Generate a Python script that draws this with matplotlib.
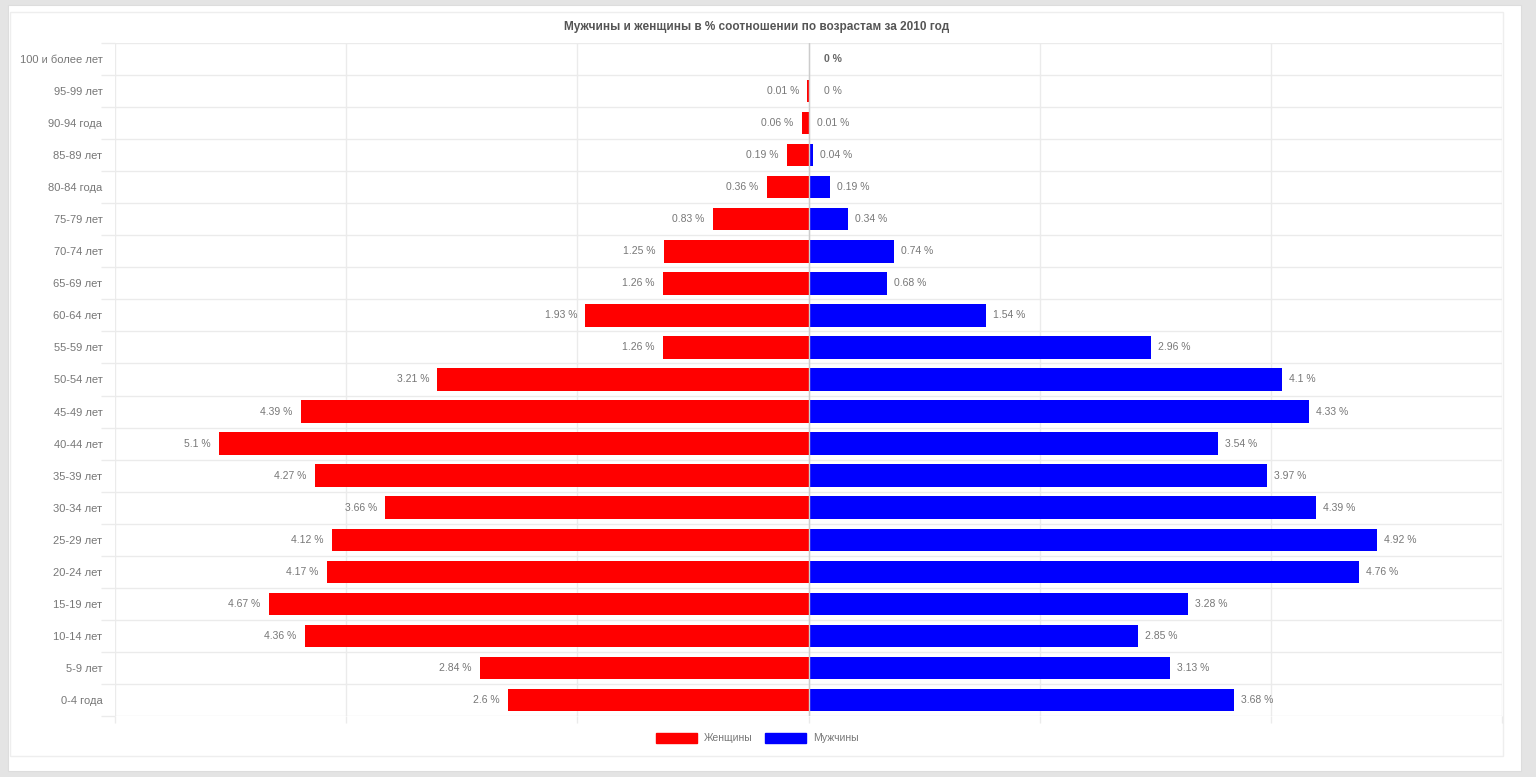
import matplotlib.pyplot as plt
from matplotlib.patches import Rectangle, Patch

# ---------------------------------------------------------------------------
# Data (top row first)
# ---------------------------------------------------------------------------
age_groups = [
    "100 и более лет", "95-99 лет", "90-94 года", "85-89 лет", "80-84 года",
    "75-79 лет", "70-74 лет", "65-69 лет", "60-64 лет", "55-59 лет",
    "50-54 лет", "45-49 лет", "40-44 лет", "35-39 лет", "30-34 лет",
    "25-29 лет", "20-24 лет", "15-19 лет", "10-14 лет", "5-9 лет", "0-4 года",
]
women = [0, 0.01, 0.06, 0.19, 0.36, 0.83, 1.25, 1.26, 1.93, 1.26,
         3.21, 4.39, 5.1, 4.27, 3.66, 4.12, 4.17, 4.67, 4.36, 2.84, 2.6]
men = [0, 0, 0.01, 0.04, 0.19, 0.34, 0.74, 0.68, 1.54, 2.96,
       4.1, 4.33, 3.54, 3.97, 4.39, 4.92, 4.76, 3.28, 2.85, 3.13, 3.68]

TITLE = "Мужчины и женщины в % соотношении по возрастам за 2010 год"
RED = "#ff0000"
BLUE = "#0000ff"
GRID = "#ebebeb"
LABEL = "#777777"

plt.rcParams["font.family"] = ["Liberation Sans", "DejaVu Sans"]

W, H = 1536, 777
fig = plt.figure(figsize=(W / 100, H / 100), dpi=100)
fig.patch.set_facecolor("#e4e4e4")

# white card + faint inner frame (behind the axes)
fig.patches.append(Rectangle((8 / W, 1 - 771 / H), (1521 - 8) / W, (771 - 5) / H,
                             transform=fig.transFigure, facecolor="white",
                             edgecolor="#dddddd", linewidth=0.8, zorder=-2))
fig.patches.append(Rectangle((10 / W, 1 - 756 / H), (1503 - 10) / W, (756 - 12) / H,
                             transform=fig.transFigure, facecolor="white",
                             edgecolor="#eeeeee", linewidth=1.0, zorder=-1))

ax = fig.add_axes([115 / W, 1 - 716 / H, (1502 - 115) / W, (716 - 43) / H])
ax.set_facecolor("none")

y = list(range(len(age_groups)))
neg_women = [-v for v in women]
ax.barh(y, neg_women, height=0.7, color=RED, zorder=3)
ax.barh(y, men, height=0.7, color=BLUE, zorder=3)

# value labels
for i, (f, m) in enumerate(zip(women, men)):
    if f > 0:
        ax.annotate(f"{f:g} %", (-f, i), xytext=(-6, 0), textcoords="offset points",
                    ha="right", va="center", fontsize=7.5, color=LABEL)
    bold = i == 0
    ax.annotate(f"{m:g} %", (m, i), xytext=(5 if m > 0 else 11, 0),
                textcoords="offset points", ha="left", va="center", fontsize=7.5,
                color="#666666" if bold else LABEL,
                fontweight="bold" if bold else "normal")

ax.set_xlim(-6, 6)
ax.set_ylim(len(age_groups) - 0.5, -0.5)

ax.set_yticks(y)
ax.set_yticklabels(age_groups, fontsize=8, color=LABEL)
ax.set_yticks([k - 0.5 for k in range(len(age_groups) + 1)], minor=True)
ax.tick_params(axis="y", which="major", length=0, pad=9)
ax.tick_params(axis="y", which="minor", length=10, color=GRID, width=1)

ax.set_xticks(range(-6, 7, 2))
ax.set_xticklabels([])
ax.tick_params(axis="x", which="major", length=5, color=GRID, width=1)

ax.grid(axis="y", which="minor", color=GRID, linewidth=1, zorder=0)
ax.grid(axis="x", which="major", color=GRID, linewidth=1, zorder=0)
ax.axvline(0, color="#cccccc", linewidth=1, zorder=4)
for s in ax.spines.values():
    s.set_visible(False)

fig.text(757 / W, 1 - 27 / H, TITLE, ha="center", va="center",
         fontsize=8.5, fontweight="bold", color="#555555")

fig.legend(handles=[Patch(color=RED, label="Женщины"), Patch(color=BLUE, label="Мужчины")],
           loc="center", bbox_to_anchor=(757 / W, 1 - 738 / H), ncol=2, frameon=False,
           fontsize=7.5, labelcolor=LABEL, handlelength=4, handleheight=1.1,
           columnspacing=1.2, handletextpad=0.6)

fig.savefig("out.png", dpi=100, facecolor=fig.get_facecolor())
